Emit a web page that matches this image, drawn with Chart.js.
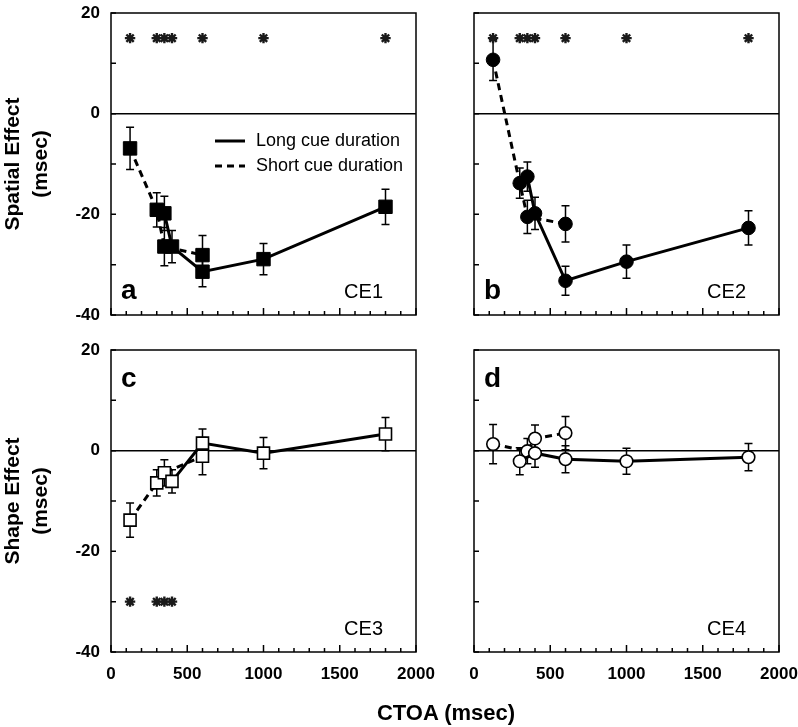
<!DOCTYPE html>
<html>
<head>
<meta charset="utf-8">
<script src="https://cdn.jsdelivr.net/npm/chart.js@4.4.1/dist/chart.umd.min.js"></script>
<style>
  body { margin: 0; background: #fff; }
  #wrap { position: relative; width: 798px; height: 727px; }
  canvas { position: absolute; left: 0; top: 0; }
  #xtitle { position: absolute; left: 296px; width: 300px; top: 700px; line-height: 26px; text-align: center;
            font: bold 22px Arial, "Liberation Sans", sans-serif; color: #000; }
</style>
</head>
<body>
<div id="wrap">
  <canvas id="ca" width="798" height="727"></canvas>
  <canvas id="cb" width="798" height="727"></canvas>
  <canvas id="cc" width="798" height="727"></canvas>
  <canvas id="cd" width="798" height="727"></canvas>
  <div id="xtitle">CTOA (msec)</div>
</div>
<script>
const seriesNames = ['Long cue duration', 'Short cue duration'];
const xTicks = [0, 500, 1000, 1500, 2000];
const yTicks = [-40, -20, 0, 20];

// a: CE1 spatial effect
const aLongX = [350, 400, 600, 1000, 1800];
const aLongY = [-19.8, -26.4, -31.4, -28.9, -18.5];
const aLongErr = [3.4, 3.2, 3.0, 3.1, 3.5];
const aShortX = [125, 300, 350, 600];
const aShortY = [-6.9, -19.1, -26.4, -28.1];
const aShortErr = [4.2, 3.4, 3.8, 3.9];
const aStarX = [125, 300, 350, 400, 600, 1000, 1800];

// b: CE2 spatial effect
const bLongX = [350, 400, 600, 1000, 1800];
const bLongY = [-12.5, -19.8, -33.2, -29.4, -22.7];
const bLongErr = [2.9, 3.2, 2.9, 3.3, 3.4];
const bShortX = [125, 300, 350, 600];
const bShortY = [10.7, -13.8, -20.5, -21.9];
const bShortErr = [4.1, 3.0, 3.3, 3.6];
const bStarX = [125, 300, 350, 400, 600, 1000, 1800];

// c: CE3 shape effect
const cLongX = [400, 600, 1000, 1800];
const cLongY = [-6.1, 1.5, -0.5, 3.3];
const cLongErr = [2.3, 2.8, 3.1, 3.3];
const cShortX = [125, 300, 350, 600];
const cShortY = [-13.8, -6.4, -4.4, -1.1];
const cShortErr = [3.4, 2.6, 2.6, 3.7];
const cStarX = [125, 300, 350, 400];

// d: CE4 shape effect
const dLongX = [300, 400, 600, 1000, 1800];
const dLongY = [-2.1, -0.5, -1.7, -2.1, -1.3];
const dLongErr = [2.7, 2.8, 2.7, 2.6, 2.7];
const dShortX = [125, 350, 400, 600];
const dShortY = [1.3, -0.1, 2.4, 3.5];
const dShortErr = [3.9, 2.5, 2.7, 3.3];

const starTop = 15;     // significance marks, spatial panels
const starBottom = -30; // significance marks, shape panels

Chart.defaults.font.family = 'Arial, "Liberation Sans", sans-serif';
Chart.defaults.color = '#000';

function pts(xs, ys) {
  return xs.map((x, i) => ({ x: x, y: ys[i] }));
}

function series(name, xs, ys, errs, dashed, style, fill, radius) {
  return {
    label: name,
    data: pts(xs, ys),
    errors: errs,
    showLine: true,
    borderColor: '#000',
    borderWidth: 3,
    borderDash: dashed ? [7, 5] : [],
    pointStyle: style,
    pointRadius: radius,
    pointBackgroundColor: fill,
    pointBorderColor: '#000',
    pointBorderWidth: fill === '#000' ? 1 : 1.6
  };
}

function stars(xs, level) {
  return {
    label: 'sig',
    data: xs.map(x => ({ x: x, y: level })),
    showLine: false,
    pointStyle: 'star',
    pointRadius: 5.2,
    pointBorderColor: '#1a1a1a',
    pointBorderWidth: 2.4
  };
}

const framePlugin = {
  id: 'frame',
  beforeDatasetsDraw(chart) {
    const ctx = chart.ctx;
    const xs = chart.scales.x, ys = chart.scales.y;
    ctx.save();
    ctx.strokeStyle = '#000';
    ctx.lineWidth = 1.5;
    chart.data.datasets.forEach(ds => {
      if (!ds.errors) return;
      ds.data.forEach((p, i) => {
        const e = ds.errors[i];
        const px = xs.getPixelForValue(p.x);
        const y1 = ys.getPixelForValue(p.y + e);
        const y2 = ys.getPixelForValue(p.y - e);
        ctx.beginPath();
        ctx.moveTo(px, y1); ctx.lineTo(px, y2);
        ctx.moveTo(px - 4, y1); ctx.lineTo(px + 4, y1);
        ctx.moveTo(px - 4, y2); ctx.lineTo(px + 4, y2);
        ctx.stroke();
      });
    });
    ctx.restore();
  },
  afterDraw(chart, args, opts) {
    const ctx = chart.ctx;
    const a = chart.chartArea;
    const xs = chart.scales.x, ys = chart.scales.y;
    ctx.save();
    ctx.strokeStyle = '#000';
    ctx.lineWidth = 1.5;
    ctx.strokeRect(a.left, a.top, a.right - a.left, a.bottom - a.top);
    // inward ticks
    ctx.beginPath();
    for (let v = xs.min; v <= xs.max; v += 100) {
      const px = xs.getPixelForValue(v);
      const len = v % 500 === 0 ? 7 : 4;
      ctx.moveTo(px, a.bottom); ctx.lineTo(px, a.bottom - len);
    }
    for (let v = ys.min; v <= ys.max; v += 10) {
      const py = ys.getPixelForValue(v);
      ctx.moveTo(a.left, py); ctx.lineTo(a.left + 5, py);
    }
    ctx.stroke();
    // panel letter
    ctx.fillStyle = '#000';
    ctx.font = 'bold 28px Arial, "Liberation Sans", sans-serif';
    ctx.textAlign = 'left';
    ctx.textBaseline = 'alphabetic';
    ctx.fillText(opts.letter, a.left + 10, opts.letterTop ? a.top + 37 : a.bottom - 16);
    // experiment tag
    ctx.font = '20px Arial, "Liberation Sans", sans-serif';
    ctx.textAlign = 'right';
    ctx.fillText(opts.tag, a.right - 33, a.bottom - 17);
    // legend
    if (opts.legend) {
      ctx.textAlign = 'left';
      ctx.textBaseline = 'middle';
      ctx.font = '18px Arial, "Liberation Sans", sans-serif';
      [0, 1].forEach(i => {
        const ds = chart.data.datasets[i];
        const y = a.top + 128 + i * 25;
        ctx.beginPath();
        ctx.lineWidth = 3;
        ctx.setLineDash(ds.borderDash);
        ctx.moveTo(a.left + 104, y); ctx.lineTo(a.left + 134, y);
        ctx.stroke();
        ctx.setLineDash([]);
        ctx.fillText(ds.label, a.left + 145, y);
      });
    }
    ctx.restore();
  }
};

function makeChart(id, area, sets, opt) {
  const left = area[0], top = area[1], right = area[2], bottom = area[3];
  const xH = opt.xLabels ? 60 : 0;
  return new Chart(document.getElementById(id), {
    type: 'scatter',
    data: { datasets: sets },
    options: {
      responsive: false,
      animation: false,
      events: [],
      layout: { padding: { left: 0, top: top, right: 798 - right, bottom: 727 - bottom - xH } },
      plugins: { legend: { display: false }, tooltip: { enabled: false }, frame: opt },
      scales: {
        x: {
          type: 'linear', min: 0, max: 2000,
          afterBuildTicks: s => { s.ticks = xTicks.map(v => ({ value: v })); },
          afterFit: s => { s.height = xH; s.paddingLeft = 0; s.paddingRight = 0; },
          grid: { display: false, drawTicks: false },
          border: { display: false },
          ticks: { display: opt.xLabels, autoSkip: false, maxRotation: 0, padding: 12,
                   callback: v => String(v),
                   font: { size: 17, weight: 'bold' } }
        },
        y: {
          type: 'linear', min: -40, max: 20,
          afterBuildTicks: s => { s.ticks = yTicks.map(v => ({ value: v })); },
          afterFit: s => { s.width = left; s.paddingTop = 0; s.paddingBottom = 0; },
          grid: { color: c => (c.tick && c.tick.value === 0 ? '#000' : 'rgba(0,0,0,0)'),
                  lineWidth: 1.5, drawTicks: false },
          border: { display: false },
          ticks: { display: opt.yLabels, padding: 11, callback: v => String(v),
                   font: { size: 17, weight: 'bold' } },
          title: { display: !!opt.yTitle, text: opt.yTitle, padding: 0,
                   font: { size: 21, weight: 'bold', lineHeight: 1.3 } }
        }
      }
    },
    plugins: [framePlugin]
  });
}

makeChart('ca', [111, 13, 416, 315], [
  series(seriesNames[0], aLongX, aLongY, aLongErr, false, 'rect', '#000', 9.5),
  series(seriesNames[1], aShortX, aShortY, aShortErr, true, 'rect', '#000', 9.5),
  stars(aStarX, starTop)
], { letter: 'a', tag: 'CE1', legend: true, yLabels: true, xLabels: false,
     yTitle: ['Spatial Effect', '(msec)'] });

makeChart('cb', [474, 13, 779, 315], [
  series(seriesNames[0], bLongX, bLongY, bLongErr, false, 'circle', '#000', 6.8),
  series(seriesNames[1], bShortX, bShortY, bShortErr, true, 'circle', '#000', 6.8),
  stars(bStarX, starTop)
], { letter: 'b', tag: 'CE2', legend: false, yLabels: false, xLabels: false });

makeChart('cc', [111, 350, 416, 652], [
  series(seriesNames[0], cLongX, cLongY, cLongErr, false, 'rect', '#fff', 8.5),
  series(seriesNames[1], cShortX, cShortY, cShortErr, true, 'rect', '#fff', 8.5),
  stars(cStarX, starBottom)
], { letter: 'c', letterTop: true, tag: 'CE3', legend: false, yLabels: true, xLabels: true,
     yTitle: ['Shape Effect', '(msec)'] });

makeChart('cd', [474, 350, 779, 652], [
  series(seriesNames[0], dLongX, dLongY, dLongErr, false, 'circle', '#fff', 6.3),
  series(seriesNames[1], dShortX, dShortY, dShortErr, true, 'circle', '#fff', 6.3)
], { letter: 'd', letterTop: true, tag: 'CE4', legend: false, yLabels: false, xLabels: true });
</script>
</body>
</html>
